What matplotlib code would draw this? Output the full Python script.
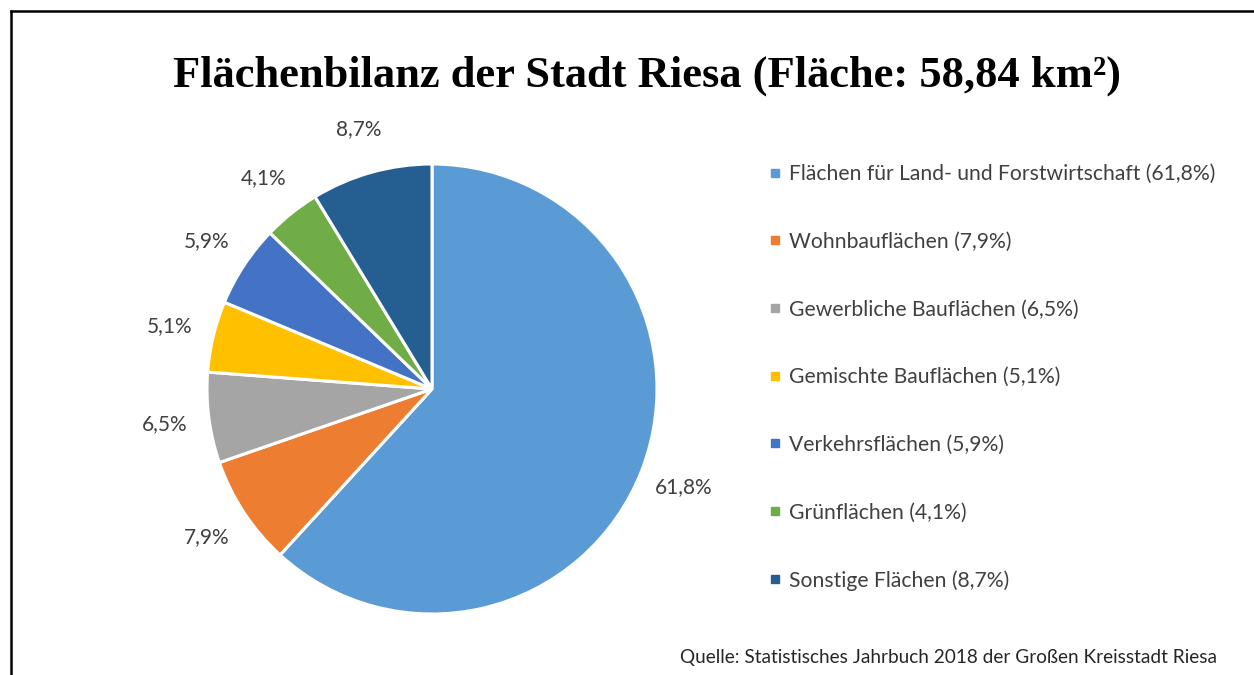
import matplotlib.pyplot as plt
from matplotlib.lines import Line2D

## Data
categories = ["Flächen für Land- und Forstwirtschaft", "Wohnbauflächen", "Gewerbliche Bauflächen",
              "Gemischte Bauflächen", "Verkehrsflächen", "Grünflächen", "Sonstige Flächen"]
shares = [61.8, 7.9, 6.5, 5.1, 5.9, 4.1, 8.7]
colors = ["#5B9BD5", "#ED7D31", "#A5A5A5", "#FFC000", "#4472C4", "#70AD47", "#255E91"]

title = "Flächenbilanz der Stadt Riesa (Fläche: 58,84 km²)"
source = "Quelle: Statistisches Jahrbuch 2018 der Großen Kreisstadt Riesa"

txt_color = "#404040"

fig = plt.figure(figsize=(12.54, 6.75), dpi=100)

# pie axes: centre ~ (432, 389) px, radius ~225 px, limits are +-1.25
W, H = 1254, 675
half = 225 * 1.25
ax = fig.add_axes([(432 - half) / W, (H - 389 - half) / H, 2 * half / W, 2 * half / H])

def fmt(p):
    return f"{p:.1f}%".replace(".", ",")

wedges, texts, autotexts = ax.pie(shares, colors=colors, startangle=90, counterclock=False,
                                  autopct=fmt, pctdistance=1.2,
                                  wedgeprops=dict(edgecolor="white", linewidth=2.2),
                                  textprops=dict(color=txt_color, fontsize=15, family="Lato"))
ax.set_xlim(-1.25, 1.25)
ax.set_ylim(-1.25, 1.25)
ax.set_aspect("equal")

## Legend
handles = [Line2D([], [], marker="s", linestyle="none", markersize=6, color=c) for c in colors]
labels = [f"{n} ({fmt(v)})" for n, v in zip(categories, shares)]
fig.legend(handles, labels, loc="upper left", bbox_to_anchor=(768 / W, 1 - 164 / H),
           frameon=False, borderpad=0, borderaxespad=0, handlelength=0.7, handletextpad=0.3,
           labelspacing=2.26, prop=dict(family="Lato", size=15.2), labelcolor=txt_color)

## Title and source
fig.text(647 / W, 1 - 76 / H, title, ha="center", va="center", fontsize=32,
         family="Liberation Serif", fontweight="bold", color="black")
fig.text(1217 / W, 1 - 657 / H, source, ha="right", va="center", fontsize=13.7,
         family="Lato", color="#262626")

## Frame lines (top and left)
fig.add_artist(Line2D([11 / W, 11 / W], [0, 1 - 11 / H], color="black", linewidth=1.8))
fig.add_artist(Line2D([11 / W, 1], [1 - 11 / H, 1 - 11 / H], color="black", linewidth=1.8))

fig.savefig("out.png", dpi=100, facecolor="white")
